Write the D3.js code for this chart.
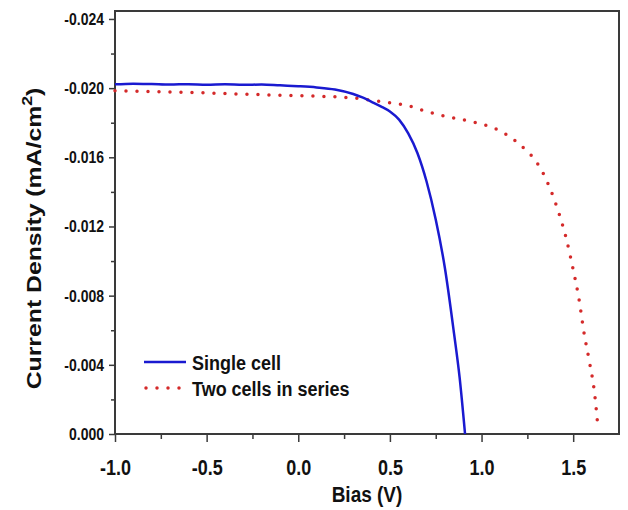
<!DOCTYPE html>
<html>
<head>
<meta charset="utf-8">
<script src="https://cdn.jsdelivr.net/npm/d3@7"></script>
<style>
  body { margin: 0; background: #fff; }
  svg text { font-family: "Liberation Sans", Arial, sans-serif; font-weight: bold; fill: #111; }
</style>
</head>
<body>
<svg id="chart" width="628" height="510"></svg>
<script>
/* J-V curves: single cell vs two cells in series */

// single cell
var singleV = [-1.0, -0.9, -0.8, -0.7, -0.6, -0.5, -0.4, -0.3, -0.2, -0.1, 0.0, 0.1, 0.2, 0.3, 0.35, 0.4, 0.45, 0.5, 0.55, 0.6, 0.65, 0.7, 0.75, 0.8, 0.85, 0.88, 0.91];
var singleJ = [-0.02022, -0.02026, -0.02024, -0.02021, -0.02023, -0.02020, -0.02023, -0.02019, -0.02021, -0.02016, -0.02011, -0.02004, -0.01992, -0.01966, -0.01946, -0.01921, -0.01895, -0.01865, -0.01818, -0.01738, -0.01625, -0.01460, -0.01240, -0.00960, -0.00580, -0.00330, 0.0];

// two cells in series
var seriesV = [-1.0, -0.6, -0.2, 0.1, 0.3, 0.45, 0.6, 0.7, 0.8, 0.95, 1.05, 1.13, 1.24, 1.30, 1.37, 1.42, 1.46, 1.50, 1.53, 1.56, 1.59, 1.615, 1.635];
var seriesJ = [-0.01985, -0.01975, -0.01962, -0.01953, -0.01943, -0.01922, -0.01898, -0.01865, -0.01838, -0.01805, -0.01776, -0.01735, -0.01643, -0.01573, -0.01429, -0.01284, -0.01139, -0.00950, -0.00790, -0.00580, -0.00410, -0.00250, -0.00040];

var xTicks = [-1.0, -0.5, 0.0, 0.5, 1.0, 1.5];
var yTicks = [0, -0.004, -0.008, -0.012, -0.016, -0.020, -0.024];
var legendLabels = ["Single cell", "Two cells in series"];

var width = 628, height = 510;
var margin = { top: 11, right: 9, bottom: 76, left: 115 };
var iw = width - margin.left - margin.right;
var ih = height - margin.top - margin.bottom;

var svg = d3.select("#chart");
var g = svg.append("g").attr("transform", "translate(" + margin.left + "," + margin.top + ")");

var x = d3.scaleLinear().domain([-1.0, 1.75]).range([0, iw]);
var y = d3.scaleLinear().domain([0, -0.02446]).range([ih, 0]);

var axisColor = "#3a3a3a";
var fmtX = d3.format(".1f"), fmtY = d3.format(".3f");
function minus(s) { return s.replace("\u2212", "-"); }

// minor ticks first
g.append("g")
  .attr("transform", "translate(0," + ih + ")")
  .call(d3.axisBottom(x).tickValues(d3.range(-0.75, 1.75, 0.5)).tickSize(5).tickFormat(""))
  .call(function (s) { s.select(".domain").remove(); s.selectAll("line").attr("stroke", axisColor).attr("stroke-width", 1.5); });

g.append("g")
  .call(d3.axisLeft(y).tickValues([-0.002, -0.006, -0.010, -0.014, -0.018, -0.022]).tickSize(4).tickFormat(""))
  .call(function (s) { s.select(".domain").remove(); s.selectAll("line").attr("stroke", axisColor).attr("stroke-width", 1.5); });

// major ticks, labels stretched a bit vertically like the source image
g.append("g")
  .attr("transform", "translate(0," + ih + ")")
  .call(d3.axisBottom(x).tickValues(xTicks).tickSize(8).tickFormat(fmtX))
  .call(function (s) {
    s.select(".domain").remove();
    s.selectAll("line").attr("stroke", axisColor).attr("stroke-width", 1.5);
    s.selectAll("text")
      .attr("font-size", 18).attr("font-family", null).attr("fill", "#111")
      .attr("y", 0).attr("dy", 0)
      .attr("transform", "translate(0,41) scale(1,1.22)")
      .text(function (d) { return minus(fmtX(d)); });
  });

g.append("g")
  .call(d3.axisLeft(y).tickValues(yTicks).tickSize(6).tickFormat(fmtY))
  .call(function (s) {
    s.select(".domain").remove();
    s.selectAll("line").attr("stroke", axisColor).attr("stroke-width", 1.5);
    s.selectAll("text")
      .attr("font-size", 14).attr("font-family", null).attr("fill", "#111")
      .attr("x", 0).attr("dy", 0)
      .attr("transform", "translate(-11,5.5) scale(1,1.15)")
      .text(function (d) { return minus(fmtY(d)); });
  });

// frame
g.append("rect")
  .attr("x", 0).attr("y", 0).attr("width", iw).attr("height", ih)
  .attr("fill", "none").attr("stroke", axisColor).attr("stroke-width", 2);

var line = d3.line()
  .x(function (d) { return x(d[0]); })
  .y(function (d) { return y(d[1]); })
  .curve(d3.curveMonotoneX);

var singleData = singleV.map(function (v, i) { return [v, singleJ[i]]; });
var seriesData = seriesV.map(function (v, i) { return [v, seriesJ[i]]; });

g.append("path")
  .datum(seriesData)
  .attr("d", line)
  .attr("fill", "none")
  .attr("stroke", "#d42a2a")
  .attr("stroke-width", 3.5)
  .attr("stroke-linecap", "round")
  .attr("stroke-dasharray", "0 11");

g.append("path")
  .datum(singleData)
  .attr("d", line)
  .attr("fill", "none")
  .attr("stroke", "#1a1ad0")
  .attr("stroke-width", 2.5);

// legend
var legend = g.append("g").attr("transform", "translate(29,351)");
legend.append("line")
  .attr("x1", 0).attr("x2", 42).attr("y1", 0).attr("y2", 0)
  .attr("stroke", "#1a1ad0").attr("stroke-width", 2.5);
legend.append("line")
  .attr("x1", 2).attr("x2", 40).attr("y1", 26).attr("y2", 26)
  .attr("stroke", "#d42a2a").attr("stroke-width", 3.5)
  .attr("stroke-linecap", "round").attr("stroke-dasharray", "0 11");
legend.selectAll("text.lg")
  .data(legendLabels)
  .join("text")
  .attr("class", "lg")
  .attr("transform", function (d, i) { return "translate(48," + (i * 26 + 7.5) + ") scale(1,1.15)"; })
  .attr("font-size", 18)
  .text(function (d) { return d; });

// axis titles
svg.append("text")
  .attr("transform", "translate(367,502) scale(1,1.2)")
  .attr("text-anchor", "middle")
  .attr("font-size", 19)
  .text("Bias (V)");

var yt = svg.append("text")
  .attr("transform", "translate(41," + (margin.top + ih / 2 + 16) + ") scale(1,1.18) rotate(-90)")
  .attr("text-anchor", "middle")
  .attr("font-size", 21);
yt.append("tspan").text("Current Density (mA/cm");
yt.append("tspan").attr("dy", -9).attr("font-size", 15).text("2");
yt.append("tspan").attr("dy", 9).text(")");
</script>
</body>
</html>
